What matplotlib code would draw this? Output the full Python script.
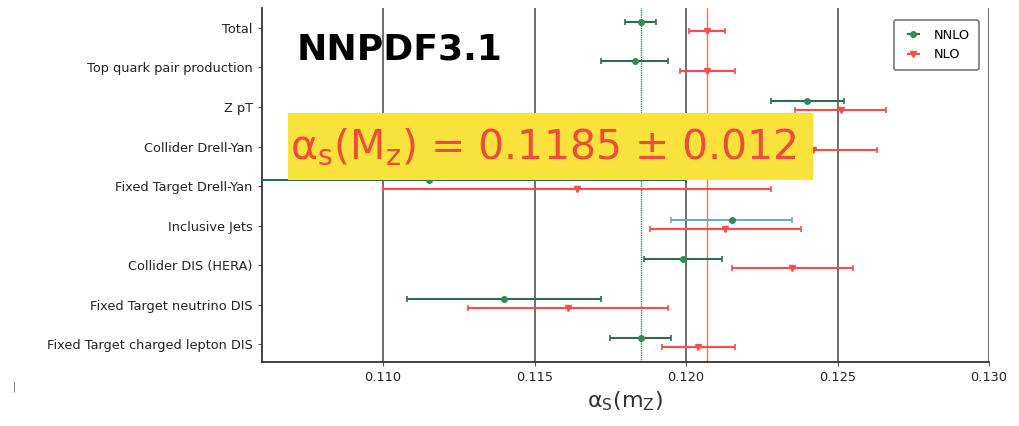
import matplotlib
matplotlib.use("Agg")
import matplotlib.pyplot as plt
from matplotlib.patches import Rectangle

# Fit categories, top to bottom
categories = [
    "Total",
    "Top quark pair production",
    "Z pT",
    "Collider Drell-Yan",
    "Fixed Target Drell-Yan",
    "Inclusive Jets",
    "Collider DIS (HERA)",
    "Fixed Target neutrino DIS",
    "Fixed Target charged lepton DIS",
]

# alpha_s values
nnlo_val = [0.1185, 0.1183, 0.1240, 0.1220, 0.1115, 0.1215, 0.1199, 0.1140, 0.1185]
nnlo_err = [0.0005, 0.0011, 0.0012, 0.0012, 0.0085, 0.0020, 0.0013, 0.0032, 0.0010]
nlo_val = [0.1207, 0.1207, 0.1251, 0.1242, 0.1164, 0.1213, 0.1235, 0.1161, 0.1204]
nlo_err = [0.0006, 0.0009, 0.0015, 0.0021, 0.0064, 0.0025, 0.0020, 0.0033, 0.0012]

x_ticks = [0.110, 0.115, 0.120, 0.125, 0.130]

green = "#2e8b57"
green_err = "#2f6b4f"
red = "#ff4a4a"

fig = plt.figure(figsize=(10.19, 4.26), dpi=100)
ax = fig.add_axes([0.257, 0.150, 0.7136, 0.831])

pos = list(range(len(categories)))
nnlo_pos = [p - 0.15 for p in pos]
nlo_pos = [p + 0.08 for p in pos]

# NNLO points, one by one because the jets bar has its own colour
for i in pos:
    ecol = "#6fa8c0" if categories[i] == "Inclusive Jets" else green_err
    ax.errorbar(nnlo_val[i], nnlo_pos[i], xerr=nnlo_err[i], fmt="o", color=green,
                ecolor=ecol, elinewidth=1.5, capsize=2, capthick=1.2, markersize=4,
                zorder=3)
ax.errorbar(nlo_val, nlo_pos, xerr=nlo_err, fmt="v", color=red, ecolor=red,
            elinewidth=1.5, capsize=2, capthick=1.2, markersize=4, zorder=3)

# legend proxies
ax.errorbar([], [], xerr=[], fmt="o", color=green, ecolor=green_err, capsize=2,
            markersize=4, label="NNLO")
ax.errorbar([], [], xerr=[], fmt="v", color=red, ecolor=red, capsize=2,
            markersize=4, label="NLO")

ax.axvline(nnlo_val[0], color=green, lw=1.0, ls=(0, (1, 0.6)), zorder=2)
ax.axvline(nlo_val[0], color=red, lw=1.0, alpha=0.8, zorder=2)

ax.set_xlim(0.106, 0.130)
ax.set_ylim(8.45, -0.5)
ax.set_yticks(pos)
ax.set_yticklabels(categories, fontsize=9.3, color="#222222")
ax.set_xticks(x_ticks)
ax.set_xticklabels([f"{t:.3f}" for t in x_ticks], fontsize=9.3, color="#222222")
ax.tick_params(axis="both", length=3, color="#555555")
ax.xaxis.grid(True, color="#6e6e6e", lw=1.4)
ax.set_axisbelow(True)
for s in ["top", "right"]:
    ax.spines[s].set_visible(False)
for s in ["left", "bottom"]:
    ax.spines[s].set_color("#333333")
    ax.spines[s].set_linewidth(1.3)

ax.set_xlabel(r"$\mathregular{\alpha_S(m_Z)}$", fontsize=16, color="#333333",
              labelpad=4)

leg = ax.legend(loc="upper right", fontsize=9.3, frameon=True, borderpad=0.7,
                handlelength=1.6, bbox_to_anchor=(0.995, 0.985))
leg.get_frame().set_edgecolor("#555555")
leg.get_frame().set_linewidth(1.2)

# annotations on top of the plot
fig.text(0.2915, 0.883, "NNPDF3.1", fontsize=26, fontweight="bold", color="black",
         va="center", ha="left")
fig.patches.append(Rectangle((0.2826, 0.578), 0.5155, 0.157, transform=fig.transFigure,
                             facecolor="#f8e23b", edgecolor="none", zorder=5))
fig.text(0.2845, 0.655, r"$\mathregular{\alpha_s(M_z)}$ = 0.1185 ± 0.012", fontsize=29.5,
         color="#f24a3c", va="center", ha="left", zorder=6)

fig.text(0.013, 0.085, "|", fontsize=7, color="#555555")

fig.savefig("out.png", dpi=100)
